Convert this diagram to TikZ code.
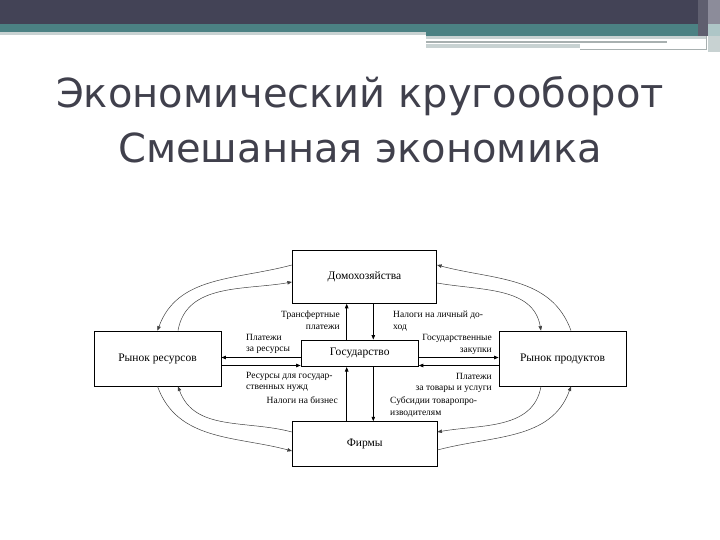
\documentclass[tikz,border=0pt]{standalone}
\usepackage{fontspec}
\setmainfont{Liberation Serif}
\newfontfamily\titlefont{DejaVu Sans}
\usepackage{tikz}
\usetikzlibrary{
  arrows.meta,
  positioning,
  calc
}
\usepackage{xcolor}
\definecolor{bannerdark}{HTML}{434356}
\definecolor{bannerteal}{HTML}{4B8183}
\definecolor{bannerpale}{HTML}{C8D2D2}
\definecolor{bannergray}{HTML}{A8B0B0}
\definecolor{bannerside}{HTML}{8C8C9A}
\definecolor{titlegray}{HTML}{40404C}
\tikzset{
  sector/.style={
    rectangle, draw=black, fill=white, line width=0.8pt,
    font=\fontsize{11.5}{13}\selectfont, text centered
  },
  flowlabel/.style={
    inner sep=0pt, font=\fontsize{9.5}{11.5}\selectfont
  },
  arrow/.style={-{Triangle[length=4.5pt, width=3.5pt]}, line width=0.7pt},
  looparrow/.style={-{Triangle[length=4.5pt, width=3.5pt]}, line width=0.5pt, black!75},
}

\begin{document}
\begin{tikzpicture}[
  x=1pt, y=-1pt,
  title/.style={font=\titlefont\fontsize{40}{48}\selectfont, text=titlegray, inner sep=0pt},
]
\useasboundingbox (0,0) rectangle (720,540);

% Slide banner
\fill[bannerdark] (0,0) rectangle (720,24);
\fill[bannerteal] (0,24) rectangle (720,32);
\fill[bannerteal] (426,32) rectangle (707,36);
\fill[bannerpale] (0,32) rectangle (426,35);
\fill[bannerpale] (426,36) rectangle (707,39);
\fill[bannergray] (426,41) rectangle (667,43.5);
\fill[bannerpale] (426,44) rectangle (580,48);
\fill[bannergray] (580,49.5) rectangle (707,50.5);
\fill[bannergray] (706,36) rectangle (707,50.5);
\fill[bannerdark!85!white] (698,0) rectangle (708,36);
\fill[bannerside] (708,0) rectangle (720,24);
\fill[bannerteal!45!white] (708,24) rectangle (720,36);
\fill[bannerpale] (708,36) rectangle (720,52);

% Title
\node[title, anchor=base] (title1) at (360,107.5) {Экономический кругооборот};
\node[title, anchor=base] (title2) at (360,162.5) {Смешанная экономика};

% Sectors
\node[sector, minimum width=144.4pt, minimum height=53.3pt] (hh) at (364.5,276.7) {Домохозяйства};
\node[sector, minimum width=127pt, minimum height=55pt] (res) at (157.5,358.5) {Рынок ресурсов};
\node[sector, minimum width=117.3pt, minimum height=26.7pt] (gov) at (359.7,353.3) {Государство};
\node[sector, minimum width=127pt, minimum height=55pt] (prod) at (562.5,358.5) {Рынок продуктов};
\node[sector, minimum width=144.7pt, minimum height=44.3pt] (firm) at (364.7,443.8) {Фирмы};

% Guides for the straight flows
\coordinate (lx) at (346.7,0);
\coordinate (rx) at (373.3,0);
\coordinate (uy) at (0,357.5);
\coordinate (dy) at (0,365.5);

% Flows through the state
\draw[arrow] (gov.north -| lx) -- (hh.south -| lx);
\draw[arrow] (hh.south -| rx) -- (gov.north -| rx);
\draw[arrow] (firm.north -| lx) -- (gov.south -| lx);
\draw[arrow] (gov.south -| rx) -- (firm.north -| rx);
\draw[arrow] (gov.west |- uy) -- (res.east |- uy);
\draw[arrow] (res.east |- dy) -- (gov.west |- dy);
\draw[arrow] (gov.east |- uy) -- (prod.west |- uy);
\draw[arrow] (prod.west |- dy) -- (gov.east |- dy);

% Outer circular flows
\draw[looparrow] ([yshift=11.7pt]hh.west) to[out=195, in=70] (res.north);
\draw[looparrow] ([xshift=20.5pt]res.north) to[out=80, in=190] ([yshift=-5.3pt]hh.west);
\draw[looparrow] (res.south) to[out=-70, in=165] ([yshift=-7.2pt]firm.west);
\draw[looparrow] ([yshift=11.8pt]firm.west) to[out=165, in=-70] ([xshift=20.5pt]res.south);
\draw[looparrow] ([xshift=8.5pt]prod.north) to[out=110, in=-15] ([yshift=11.7pt]hh.east);
\draw[looparrow] ([yshift=-6.3pt]hh.east) to[out=-10, in=100] ([xshift=-21.5pt]prod.north);
\draw[looparrow] ([xshift=-21.5pt]prod.south) to[out=-100, in=10] ([yshift=11.8pt]firm.east);
\draw[looparrow] ([yshift=-6.2pt]firm.east) to[out=15, in=-110] ([xshift=8.5pt]prod.south);

% Flow labels
\node[flowlabel, anchor=north east, align=right] (ltransfer) at (340,311) {Трансфертные\\платежи};
\node[flowlabel, anchor=north west, align=left] (ltaxinc) at (393,311) {Налоги на личный до-\\ход};
\node[flowlabel, anchor=north west, align=left] (lpayres) at (246,334) {Платежи\\за ресурсы};
\node[flowlabel, anchor=north east, align=right] (lgovbuy) at (492,334.5) {Государственные\\закупки};
\node[flowlabel, anchor=north west, align=left] (lresgov) at (246,372) {Ресурсы для государ-\\ственных нужд};
\node[flowlabel, anchor=north east] (ltaxbiz) at (338,396.5) {Налоги на бизнес};
\node[flowlabel, anchor=north east, align=right] (lpayprod) at (492,373) {Платежи\\за товары и услуги};
\node[flowlabel, anchor=north west, align=left] (lsubs) at (390,396.5) {Субсидии товаропро-\\изводителям};

\end{tikzpicture}
\end{document}
